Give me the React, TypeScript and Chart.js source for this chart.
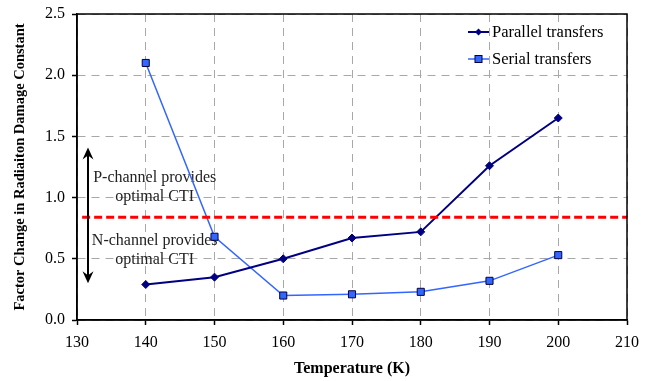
import React, { useEffect, useRef } from "react";
import { Chart, registerables } from "chart.js";

Chart.register(...registerables);

const temperatures = [140, 150, 160, 170, 180, 190, 200];
const parallelValues = [0.29, 0.35, 0.5, 0.67, 0.72, 1.26, 1.65];
const serialValues = [2.1, 0.68, 0.2, 0.21, 0.23, 0.32, 0.53];
const seriesNames = ["Parallel transfers", "Serial transfers"];
const thresholdValue = 0.84;
const annotationLines = ["P-channel provides", "optimal CTI", "N-channel provides", "optimal CTI"];

const SERIF = "'Liberation Serif', 'DejaVu Serif', serif";
const PAR_COLOR = "#000080";
const SER_COLOR = "#3366FF";

export default function App() {
  const ref = useRef<HTMLCanvasElement | null>(null);

  useEffect(() => {
    document.body.style.margin = "0";
    const canvas = ref.current;
    if (!canvas) return;

    const annotationPlugin = {
      id: "annot",
      beforeDatasetsDraw(chart: any) {
        const { ctx, scales } = chart;
        const x = scales.x;
        const y = scales.y;
        ctx.save();
        ctx.fillStyle = "#222";
        ctx.font = `16px ${SERIF}`;
        ctx.textAlign = "center";
        ctx.textBaseline = "middle";
        const cx = x.getPixelForValue(141.3);
        ctx.fillText(annotationLines[0], cx, y.getPixelForValue(1.16));
        ctx.fillText(annotationLines[1], cx, y.getPixelForValue(1.005));
        ctx.fillText(annotationLines[2], cx, y.getPixelForValue(0.646));
        ctx.fillText(annotationLines[3], cx, y.getPixelForValue(0.49));
        ctx.restore();
      },
      afterDatasetsDraw(chart: any) {
        const { ctx, scales, chartArea } = chart;
        const x = scales.x;
        const y = scales.y;
        ctx.save();
        // red dashed threshold
        const ry = y.getPixelForValue(thresholdValue);
        ctx.strokeStyle = "#FF0000";
        ctx.lineWidth = 3;
        ctx.setLineDash([8, 4]);
        ctx.beginPath();
        ctx.moveTo(x.getPixelForValue(130.75), ry);
        ctx.lineTo(chartArea.right, ry);
        ctx.stroke();
        ctx.setLineDash([]);
        // double arrow
        const ax = x.getPixelForValue(131.6);
        const top = y.getPixelForValue(1.41);
        const bot = y.getPixelForValue(0.3);
        ctx.strokeStyle = "#000";
        ctx.fillStyle = "#000";
        ctx.lineWidth = 2;
        ctx.beginPath();
        ctx.moveTo(ax, top + 6);
        ctx.lineTo(ax, bot - 6);
        ctx.stroke();
        ctx.beginPath();
        ctx.moveTo(ax, top);
        ctx.lineTo(ax - 5.5, top + 12);
        ctx.lineTo(ax, top + 8);
        ctx.lineTo(ax + 5.5, top + 12);
        ctx.closePath();
        ctx.fill();
        ctx.beginPath();
        ctx.moveTo(ax, bot);
        ctx.lineTo(ax - 5.5, bot - 12);
        ctx.lineTo(ax, bot - 8);
        ctx.lineTo(ax + 5.5, bot - 12);
        ctx.closePath();
        ctx.fill();
        // frame
        ctx.strokeStyle = "#000";
        ctx.lineWidth = 1.5;
        ctx.strokeRect(chartArea.left, chartArea.top, chartArea.right - chartArea.left, chartArea.bottom - chartArea.top);
        // legend
        ctx.font = `16.5px ${SERIF}`;
        ctx.textAlign = "left";
        ctx.textBaseline = "middle";
        const lx0 = 468;
        const lx1 = 489;
        const rows = [
          { y: 32, color: PAR_COLOR, name: seriesNames[0], kind: "diamond" },
          { y: 59, color: SER_COLOR, name: seriesNames[1], kind: "square" },
        ];
        for (const r of rows) {
          ctx.strokeStyle = r.color;
          ctx.lineWidth = r.kind === "diamond" ? 2 : 1.5;
          ctx.beginPath();
          ctx.moveTo(lx0, r.y);
          ctx.lineTo(lx1, r.y);
          ctx.stroke();
          const mx = (lx0 + lx1) / 2;
          if (r.kind === "diamond") {
            ctx.fillStyle = PAR_COLOR;
            ctx.beginPath();
            ctx.moveTo(mx, r.y - 3.5);
            ctx.lineTo(mx + 3.5, r.y);
            ctx.lineTo(mx, r.y + 3.5);
            ctx.lineTo(mx - 3.5, r.y);
            ctx.closePath();
            ctx.fill();
          } else {
            ctx.fillStyle = SER_COLOR;
            ctx.strokeStyle = "#000040";
            ctx.lineWidth = 1;
            ctx.fillRect(mx - 3.5, r.y - 3.5, 7, 7);
            ctx.strokeRect(mx - 3.5, r.y - 3.5, 7, 7);
          }
          ctx.fillStyle = "#000";
          ctx.fillText(r.name, 492, r.y + 1);
        }
        ctx.restore();
      },
    };

    const gridOpts: any = { color: "#a8a8a8", lineWidth: 1, tickColor: "#000", tickLength: 5, tickBorderDash: [], tickWidth: 1.5 };
    const borderOpts: any = { display: true, color: "#000", width: 1.5, dash: [8, 6] };

    const chart = new Chart(canvas, {
      type: "line",
      data: {
        datasets: [
          {
            label: seriesNames[0],
            data: temperatures.map((t, i) => ({ x: t, y: parallelValues[i] })),
            borderColor: PAR_COLOR,
            backgroundColor: PAR_COLOR,
            borderWidth: 2,
            pointStyle: "rectRot",
            pointRadius: 4,
            pointBorderWidth: 1,
            pointBorderColor: PAR_COLOR,
            tension: 0,
          },
          {
            label: seriesNames[1],
            data: temperatures.map((t, i) => ({ x: t, y: serialValues[i] })),
            borderColor: SER_COLOR,
            backgroundColor: SER_COLOR,
            borderWidth: 1.5,
            pointStyle: "rect",
            pointRadius: 5,
            pointBorderWidth: 1,
            pointBorderColor: "#000040",
            tension: 0,
          },
        ],
      },
      options: {
        animation: false,
        responsive: true,
        maintainAspectRatio: false,
        layout: { padding: { top: 14, right: 37, left: 0, bottom: 0 } },
        plugins: { legend: { display: false }, tooltip: { enabled: false } },
        scales: {
          x: {
            type: "linear",
            min: 130,
            max: 210,
            ticks: { stepSize: 10, color: "#000", font: { family: SERIF, size: 16 }, padding: 8, maxRotation: 0 },
            grid: gridOpts,
            border: borderOpts,
            title: { display: true, text: "Temperature (K)", color: "#000", font: { family: SERIF, size: 16, weight: "bold" }, padding: { top: 4, bottom: 3 } },
            afterFit: (s: any) => { s.height = 61; s.paddingLeft = 0; s.paddingRight = 0; },
          },
          y: {
            min: 0,
            max: 2.5,
            ticks: { stepSize: 0.5, color: "#000", font: { family: SERIF, size: 16 }, padding: 7, callback: (v: any) => Number(v).toFixed(1) },
            grid: gridOpts,
            border: borderOpts,
            title: { display: true, text: "Factor Change in Radiaiton Damage Constant", color: "#000", font: { family: SERIF, size: 14.5, weight: "bold" }, padding: { top: 12, bottom: 4 } },
            afterFit: (s: any) => { s.width = 77; s.paddingTop = 0; s.paddingBottom = 0; },
          },
        },
      },
      plugins: [annotationPlugin],
    });
    return () => chart.destroy();
  }, []);

  return (
    <div style={{ width: 664, height: 381, position: "relative" }}>
      <canvas ref={ref} />
    </div>
  );
}
